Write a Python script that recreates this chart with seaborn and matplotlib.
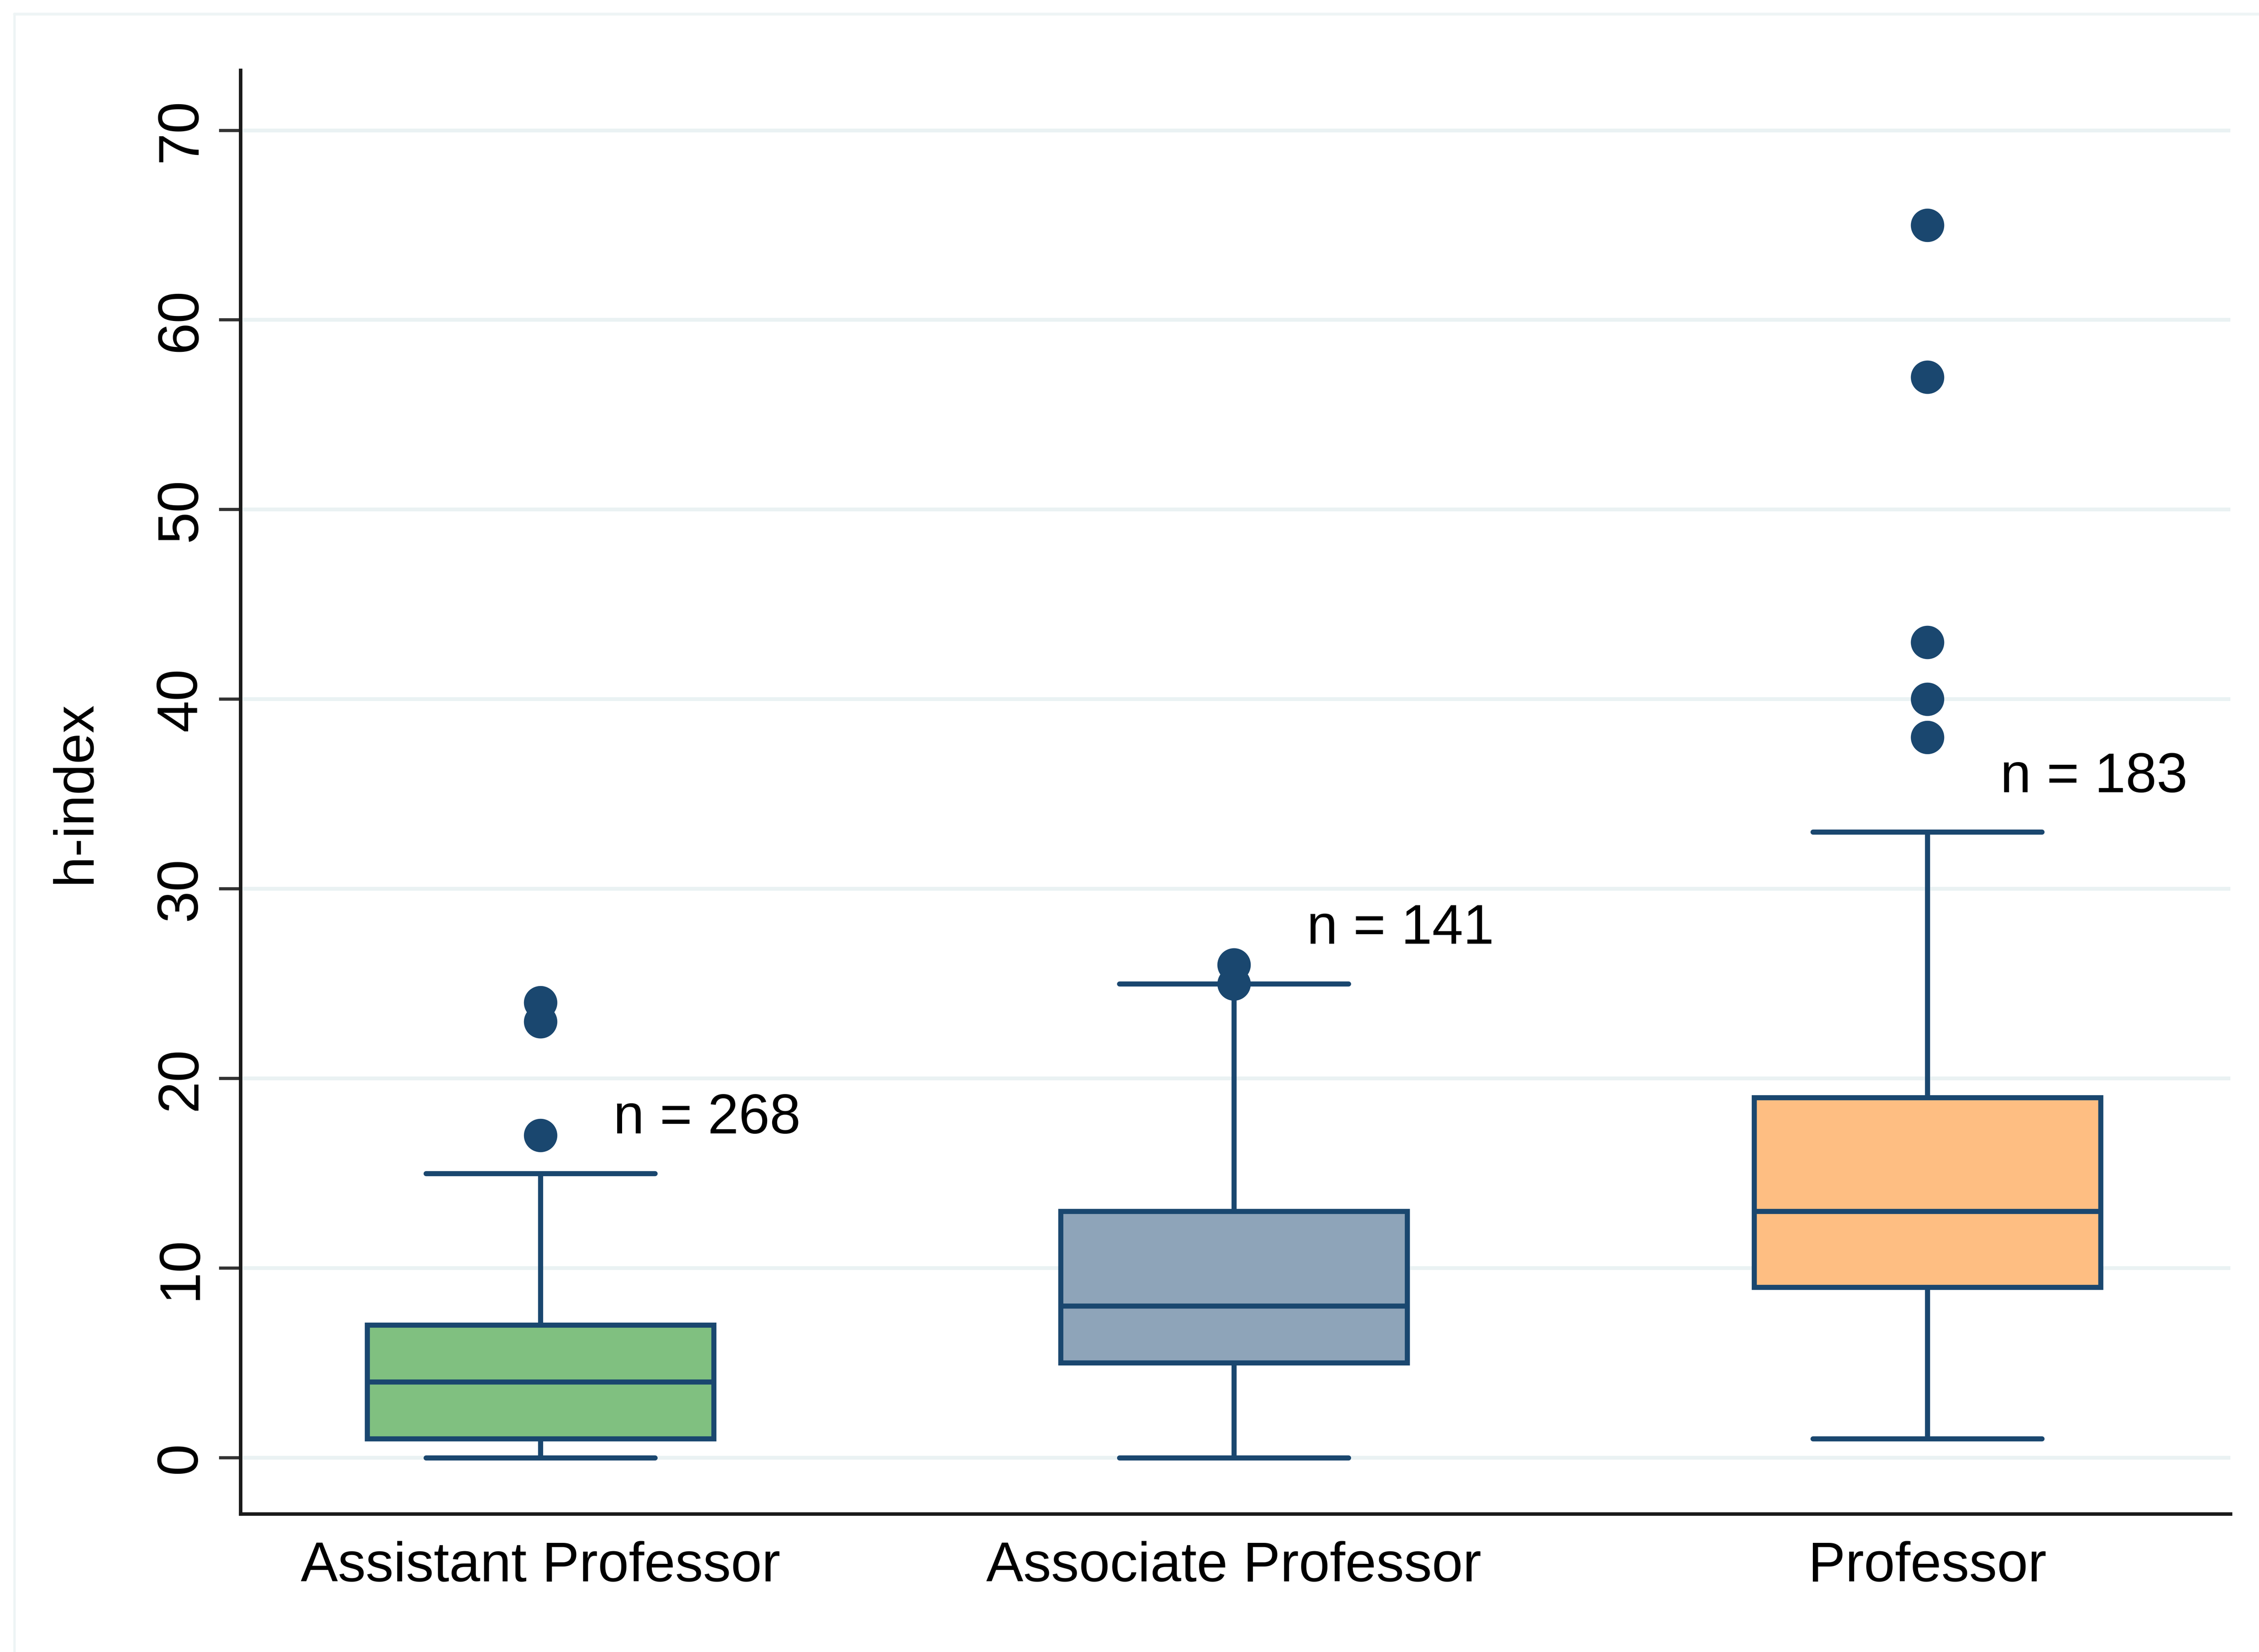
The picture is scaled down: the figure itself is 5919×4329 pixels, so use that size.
import matplotlib
matplotlib.use("Agg")
import matplotlib.pyplot as plt
from matplotlib.lines import Line2D
import pandas as pd
import seaborn as sns

# Academic rank groups
categories = ["Assistant Professor", "Associate Professor", "Professor"]
group_sizes = [268, 141, 183]

# Five-number summaries of h-index per rank: lower whisker, Q1, median, Q3, upper whisker
whisker_low = [0, 0, 1]
q1 = [1, 5, 9]
median = [4, 8, 13]
q3 = [7, 13, 19]
whisker_high = [15, 25, 33]

# Values beyond the whiskers
outliers_assistant = [17, 23, 24]
outliers_associate = [25, 26]
outliers_professor = [38, 40, 43, 57, 65]

y_ticks = [0, 10, 20, 30, 40, 50, 60, 70]

box_colors = ["#80C080", "#8EA4B9", "#FEBE82"]
navy = "#1A476F"

# Long-form tables for seaborn
box_rows = []
for i, cat in enumerate(categories):
    for v in (whisker_low[i], q1[i], median[i], q3[i], whisker_high[i]):
        box_rows.append({"rank": cat, "h": v})
box_df = pd.DataFrame(box_rows)

out_rows = []
for cat, vals in zip(categories, [outliers_assistant, outliers_associate, outliers_professor]):
    for v in vals:
        out_rows.append({"rank": cat, "h": v})
out_df = pd.DataFrame(out_rows)

sns.set_style("white")
plt.rcParams["font.family"] = ["Liberation Sans", "DejaVu Sans"]
plt.rcParams["text.color"] = "black"
plt.rcParams["axes.labelcolor"] = "black"
plt.rcParams["xtick.labelcolor"] = "black"
plt.rcParams["ytick.labelcolor"] = "black"

W, H = 5919, 4329
fig = plt.figure(figsize=(W / 300, H / 300), dpi=300)
fig.patch.set_facecolor("white")
ax = fig.add_axes([630 / W, 1 - 3967 / H, (5844 - 630) / W, (3967 - 184) / H])

sns.boxplot(
    data=box_df, x="rank", y="h", hue="rank", order=categories,
    hue_order=categories, palette=box_colors, saturation=1,
    width=0.5, whis=(0, 100), showfliers=False, linecolor=navy,
    linewidth=3.2, capwidths=0.33, legend=False, ax=ax, zorder=2,
)

sns.stripplot(
    data=out_df, x="rank", y="h", order=categories, jitter=False,
    color=navy, size=21, linewidth=0, ax=ax, zorder=3,
)

# Sample-size annotations beside each upper whisker
for i, n in enumerate(group_sizes):
    ax.text(i + 0.105, whisker_high[i] + 2.1, f"n = {n}", ha="left",
            va="baseline", fontsize=35, color="black", zorder=4)

ax.set_xlim(-0.4326, 2.437)
ax.set_ylim(-2.96, 73.17)
ax.set_yticks(y_ticks)
ax.set_yticklabels([str(t) for t in y_ticks], rotation=90, va="center")
ax.set_xlabel("")
ax.set_ylabel("h-index", fontsize=35, color="black")
ax.yaxis.set_label_coords(-0.070, 0.5)

ax.set_axisbelow(True)
ax.yaxis.grid(True, color="#EAF2F3", linewidth=2.4)
ax.xaxis.grid(False)

for side in ("top", "right"):
    ax.spines[side].set_visible(False)
for side in ("left", "bottom"):
    ax.spines[side].set_color("#1A1A1A")
    ax.spines[side].set_linewidth(2.2)

ax.tick_params(axis="y", length=13.5, width=2, color="#333333", pad=7,
               labelsize=36, left=True, labelcolor="black")
ax.tick_params(axis="x", length=0, pad=17, labelsize=35, labelcolor="black")

# Light outer frame of the graph region
frame_c = "#EEF4F5"
fig.add_artist(Line2D([38 / W, 1], [1 - 37 / H, 1 - 37 / H], color=frame_c,
                      linewidth=1.8, transform=fig.transFigure))
fig.add_artist(Line2D([38 / W, 38 / W], [0, 1 - 37 / H], color=frame_c,
                      linewidth=1.5, transform=fig.transFigure))

fig.savefig("out.png", dpi=300, facecolor="white")
